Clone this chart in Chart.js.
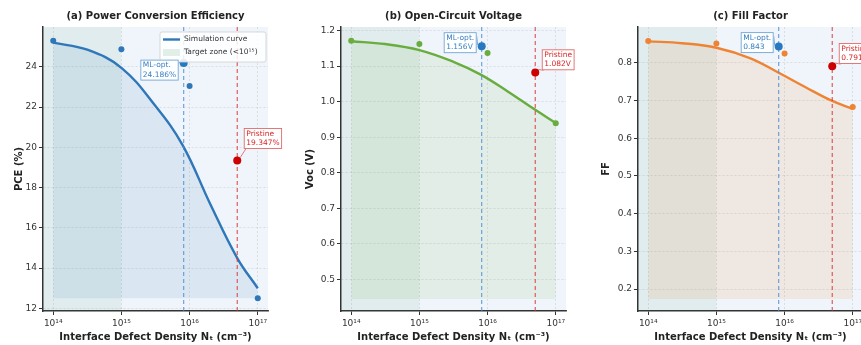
<!DOCTYPE html>
<html>
<head>
<meta charset="utf-8">
<script src="https://cdn.jsdelivr.net/npm/chart.js@4.4.1/dist/chart.umd.min.js"></script>
<style>
  html, body { margin: 0; padding: 0; background: #fff; overflow: hidden; width: 861px; height: 345px; }
  .panel { position: absolute; top: 0; width: 297px; height: 345px; }
</style>
</head>
<body>
<div class="panel" style="left:0px"><canvas id="pce"></canvas></div>
<div class="panel" style="left:298px"><canvas id="voc"></canvas></div>
<div class="panel" style="left:595px"><canvas id="ff"></canvas></div>
<script>
// --- data ---
const xRange = [7.08e13, 1.413e17];
const decadeTicks = [1e14, 1e15, 1e16, 1e17];
const xTickLabels = ['10¹⁴', '10¹⁵', '10¹⁶', '10¹⁷'];
const targetEdge = 1e15;

const sampleNt = [1e14, 1e15, 1e16, 1e17];
const pceSamples = [25.3, 24.88, 23.05, 12.5];
const vocSamples = [1.171, 1.162, 1.137, 0.939];
const ffSamples = [0.858, 0.851, 0.825, 0.683];

const curveNt = [1e14, 3.16e14, 1e15, 3.16e15, 7.94e15, 2e16, 5e16, 1e17];
const pceCurve = [25.2, 24.85, 23.95, 22.05, 20.1, 17.2, 14.5, 13.0];
const vocCurve = [1.170, 1.162, 1.145, 1.112, 1.076, 1.028, 0.977, 0.940];
const ffCurve = [0.857, 0.852, 0.840, 0.812, 0.775, 0.736, 0.699, 0.678];

const mlNt = 8.2e15;
const pristineNt = 5e16;
const mlValues = [24.186, 1.156, 0.843];
const pristineValues = [19.347, 1.082, 0.791];

const pceTicks = [12, 14, 16, 18, 20, 22, 24];
const vocTicks = [0.5, 0.6, 0.7, 0.8, 0.9, 1.0, 1.1, 1.2];
const ffTicks = [0.2, 0.3, 0.4, 0.5, 0.6, 0.7, 0.8];

const FONT = "'DejaVu Sans', sans-serif";

function drawNote(ctx, px, py, lines, textColor, borderColor, side, dy) {
  ctx.save();
  ctx.font = '7.5px ' + FONT;
  const w = Math.max(...lines.map(l => ctx.measureText(l).width)) + 5;
  const h = 21;
  const bx = side === 'left' ? px - 5 - w : px + 6.5;
  const by = py + dy - h / 2;
  // arrow
  ctx.strokeStyle = borderColor;
  ctx.lineWidth = 0.9;
  ctx.beginPath();
  if (side === 'left') {
    ctx.moveTo(bx + w, by + 4);
    ctx.lineTo(px - 4, py - 1);
  } else {
    ctx.moveTo(bx + 2, by + h);
    ctx.lineTo(px + 3, py - 3);
  }
  ctx.stroke();
  ctx.fillStyle = 'rgba(255,255,255,0.92)';
  ctx.fillRect(bx, by, w, h);
  ctx.strokeRect(bx + 0.5, by + 0.5, w - 1, h - 1);
  ctx.fillStyle = textColor;
  ctx.textAlign = 'left';
  ctx.textBaseline = 'middle';
  ctx.fillText(lines[0], bx + 2.5, by + 5.8);
  ctx.fillText(lines[1], bx + 2.5, by + 15.2);
  ctx.restore();
}

function drawLegend(ctx, a, color) {
  const right = a.right - 2, top = a.top + 5, w = 106, h = 30;
  const left = right - w;
  ctx.save();
  ctx.fillStyle = 'rgba(255,255,255,0.85)';
  ctx.strokeStyle = '#cfcfcf';
  ctx.lineWidth = 0.8;
  ctx.beginPath();
  ctx.roundRect(left, top, w, h, 2);
  ctx.fill();
  ctx.stroke();
  ctx.strokeStyle = color;
  ctx.lineWidth = 2.4;
  ctx.beginPath();
  ctx.moveTo(left + 3, top + 7.5);
  ctx.lineTo(left + 20, top + 7.5);
  ctx.stroke();
  ctx.fillStyle = 'rgba(46,139,87,0.13)';
  ctx.fillRect(left + 3, top + 17, 17, 7);
  ctx.fillStyle = '#333';
  ctx.font = '7.5px ' + FONT;
  ctx.textBaseline = 'middle';
  ctx.fillText('Simulation curve', left + 24, top + 7.5);
  ctx.fillText('Target zone (<10¹⁵)', left + 24, top + 20.5);
  ctx.restore();
}

function decor(p) {
  return {
    id: 'decor',
    beforeDraw(chart) {
      const { ctx, chartArea: a } = chart;
      ctx.save();
      ctx.fillStyle = '#f0f5fb';
      ctx.fillRect(a.left, a.top, a.right - a.left, a.bottom - a.top);
      ctx.restore();
    },
    afterDraw(chart) {
      const { ctx, chartArea: a, scales: { x, y } } = chart;
      ctx.save();
      ctx.fillStyle = '#222';
      ctx.textAlign = 'center';
      ctx.textBaseline = 'middle';
      ctx.font = 'bold 10px ' + FONT;
      ctx.fillText(p.title, (a.left + a.right) / 2, 16);
      ctx.fillText('Interface Defect Density Nₜ (cm⁻³)', (a.left + a.right) / 2, 337);
      ctx.translate(p.yTitleX, (a.top + a.bottom) / 2);
      ctx.rotate(-Math.PI / 2);
      ctx.fillText(p.yTitle, 0, 0);
      ctx.restore();
      if (p.legend) drawLegend(ctx, a, p.color);
      drawNote(ctx, x.getPixelForValue(mlNt), y.getPixelForValue(p.ml), p.mlText,
        '#3a7dc0', '#6fa3d6', 'left', p.mlDy);
      drawNote(ctx, x.getPixelForValue(pristineNt), y.getPixelForValue(p.pristine), p.pristineText,
        '#d62728', '#e06a6a', 'right', p.pristineDy);
    }
  };
}

function makeChart(id, p) {
  const tickFont = { family: FONT, size: 9 };
  return new Chart(document.getElementById(id), {
    type: 'line',
    data: {
      datasets: [
        {
          data: [{ x: xRange[0], y: p.yRange[1] }, { x: targetEdge, y: p.yRange[1] }],
          fill: 'start', backgroundColor: 'rgba(46,139,87,0.08)',
          borderWidth: 0, pointRadius: 0, order: 10
        },
        {
          data: curveNt.map((x, i) => ({ x, y: p.curve[i] })),
          fill: { value: p.fillBase }, backgroundColor: p.fillColor,
          borderColor: p.color, borderWidth: 2.4, pointRadius: 0,
          tension: 0.4, order: 9
        },
        {
          data: [{ x: mlNt, y: p.yRange[0] }, { x: mlNt, y: p.yRange[1] }],
          borderColor: 'rgba(70,140,210,0.85)', borderDash: [4, 3], borderWidth: 1.1,
          pointRadius: 0, fill: false, order: 8
        },
        {
          data: [{ x: pristineNt, y: p.yRange[0] }, { x: pristineNt, y: p.yRange[1] }],
          borderColor: 'rgba(220,50,50,0.85)', borderDash: [4, 3], borderWidth: 1.1,
          pointRadius: 0, fill: false, order: 7
        },
        {
          data: sampleNt.map((x, i) => ({ x, y: p.samples[i] })),
          showLine: false, pointRadius: 3, pointBackgroundColor: p.color,
          pointBorderColor: p.color, pointBorderWidth: 0, order: 5
        },
        {
          data: [{ x: mlNt, y: p.ml }],
          showLine: false, pointRadius: 4, pointBackgroundColor: '#2878c0',
          pointBorderColor: '#2878c0', pointBorderWidth: 0, order: 2
        },
        {
          data: [{ x: pristineNt, y: p.pristine }],
          showLine: false, pointRadius: 4, pointBackgroundColor: '#cc0000',
          pointBorderColor: '#cc0000', pointBorderWidth: 0, order: 1
        }
      ]
    },
    options: {
      responsive: true, maintainAspectRatio: false, animation: false,
      layout: { padding: { top: 27, right: 29, left: 0, bottom: 0 } },
      plugins: { legend: { display: false }, tooltip: { enabled: false }, title: { display: false } },
      scales: {
        x: {
          type: 'logarithmic', min: xRange[0], max: xRange[1],
          afterBuildTicks: s => { s.ticks = decadeTicks.map(v => ({ value: v })); },
          afterFit: s => { s.height = 34; },
          ticks: {
            callback: (v, i) => xTickLabels[i], autoSkip: false, maxRotation: 0,
            padding: 3, color: '#333', font: tickFont
          },
          grid: { color: 'rgba(0,0,0,0.12)', lineWidth: 0.8, tickLength: 4, tickColor: '#333', tickWidth: 1 },
          border: { display: true, color: '#333', width: 1.5, dash: [2, 2] }
        },
        y: {
          type: 'linear', min: p.yRange[0], max: p.yRange[1],
          afterBuildTicks: s => { s.ticks = p.ticks.map(v => ({ value: v })); },
          afterFit: s => { s.width = 43; },
          ticks: {
            callback: v => p.fmt(v), padding: 2, color: '#333', font: tickFont
          },
          grid: { color: 'rgba(0,0,0,0.12)', lineWidth: 0.8, tickLength: 4, tickColor: '#333', tickWidth: 1 },
          border: { display: true, color: '#333', width: 1.5, dash: [2, 2] }
        }
      }
    },
    plugins: [decor(p)]
  });
}

makeChart('pce', {
  title: '(a) Power Conversion Efficiency', yTitle: 'PCE (%)', yTitleX: 19,
  yRange: [11.87, 25.98], ticks: pceTicks, fmt: v => String(v),
  curve: pceCurve, samples: pceSamples, fillBase: 12.5,
  color: '#2f77b8', fillColor: 'rgba(46,117,182,0.11)',
  ml: mlValues[0], pristine: pristineValues[0],
  mlText: ['ML-opt.', '24.186%'], pristineText: ['Pristine', '19.347%'],
  mlDy: 7, pristineDy: -22, legend: true
});

makeChart('voc', {
  title: '(b) Open-Circuit Voltage', yTitle: 'Voc (V)', yTitleX: 12.5,
  yRange: [0.411, 1.21], ticks: vocTicks, fmt: v => v.toFixed(1),
  curve: vocCurve, samples: vocSamples, fillBase: 0.445,
  color: '#69ad3e', fillColor: 'rgba(106,170,60,0.11)',
  ml: mlValues[1], pristine: pristineValues[1],
  mlText: ['ML-opt.', '1.156V'], pristineText: ['Pristine', '1.082V'],
  mlDy: -3.5, pristineDy: -12.7, legend: false
});

makeChart('ff', {
  title: '(c) Fill Factor', yTitle: 'FF', yTitleX: 11.5,
  yRange: [0.142, 0.895], ticks: ffTicks, fmt: v => v.toFixed(1),
  curve: ffCurve, samples: ffSamples, fillBase: 0.174,
  color: '#ee8433', fillColor: 'rgba(238,132,51,0.12)',
  ml: mlValues[2], pristine: pristineValues[2],
  mlText: ['ML-opt.', '0.843'], pristineText: ['Pristine', '0.791'],
  mlDy: -4, pristineDy: -12.7, legend: false
});
</script>
</body>
</html>
